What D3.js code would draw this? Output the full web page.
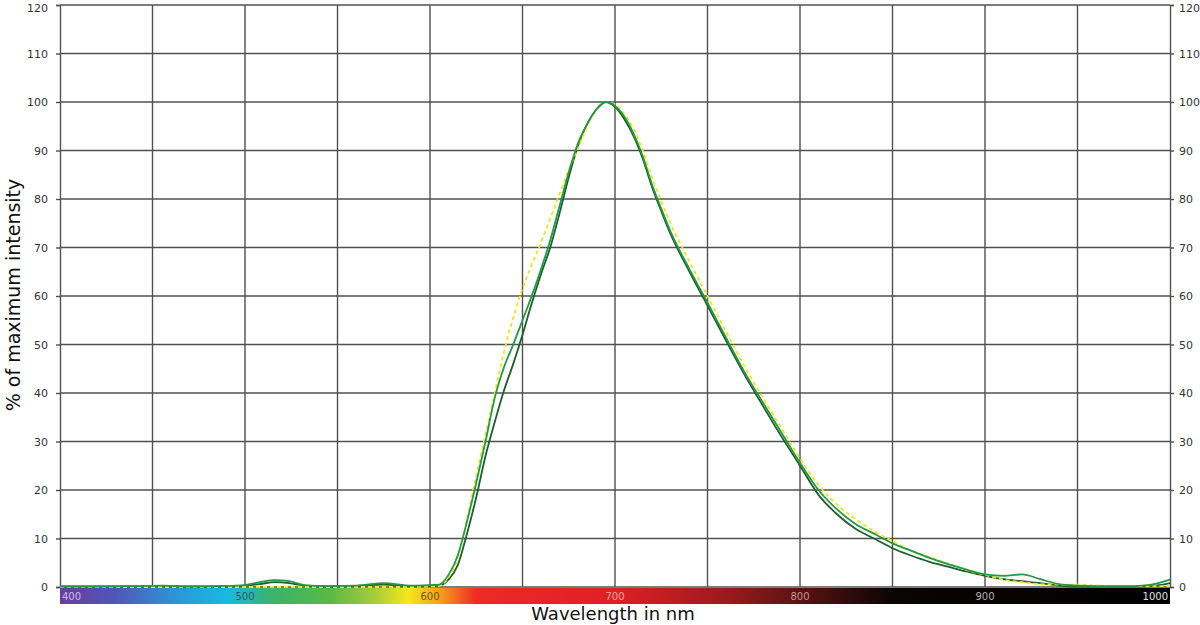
<!DOCTYPE html>
<html>
<head>
<meta charset="utf-8">
<script src="https://cdn.jsdelivr.net/npm/d3@7"></script>
<style>
  body { margin: 0; background: #fff; }
  svg { display: block; }
  text { font-family: "DejaVu Sans", Verdana, sans-serif; }
</style>
</head>
<body>
<svg id="chart" width="1200" height="625"></svg>
<script>
// wavelength grid (nm) shared by the three measured spectra
const wavelengths = [400, 420, 440, 455, 470, 485, 500, 508, 516, 524, 532, 545, 560, 575, 590, 600,
  605, 610, 615, 620, 625, 630, 635, 640, 645, 650, 655, 660, 665, 670, 675, 680, 685, 690, 695,
  700, 705, 710, 715, 720, 725, 730, 740, 750, 760, 770, 780, 790, 800, 810, 820, 830, 840, 850,
  860, 870, 880, 890, 900, 910, 920, 930, 940, 950, 960, 970, 980, 990, 1000]

const greenSeries = [0.1, 0.1, 0.2, 0.3, 0.1, 0.2, 0.4, 1.0, 1.4, 1.2, 0.4, 0.2, 0.3, 0.8, 0.3, 0.4,
  0.5, 2.5, 6.5, 13.5, 21.5, 30, 39, 45.3, 50, 55, 60, 65.5, 71.5, 78.5, 85.5, 91.5, 95.5, 98.5, 100,
  99.2, 97, 93.5, 88.8, 83, 78, 73.3, 65.7, 58.6, 51.4, 44.3, 38, 31.8, 25.6, 20, 16, 13, 11, 9,
  7.5, 6, 4.7, 3.6, 2.6, 2.3, 2.6, 1.6, 0.6, 0.3, 0.2, 0.2, 0.2, 0.5, 1.5]

const darkSeries = [0.1, 0.1, 0.1, 0.2, 0.1, 0.1, 0.3, 0.6, 1.0, 0.8, 0.3, 0.1, 0.2, 0.5, 0.2, 0.3,
  0.3, 1.5, 4.5, 11, 18.5, 27, 34, 40.5, 46, 52, 58.5, 64.5, 70, 77, 84.5, 91, 95.5, 98.5, 100,
  99, 96.5, 93, 88.3, 82.5, 77.5, 72.8, 65.2, 58, 50.8, 43.8, 37.3, 31, 25, 19, 15, 12, 10, 8,
  6.5, 5.2, 4.2, 3.2, 2.3, 1.6, 1.2, 0.8, 0.3, 0.1, 0.1, 0.1, 0.1, 0.2, 0.8]

const yellowSeries = [0, 0, 0, 0, 0, 0, 0, 0, 0, 0, 0, 0, 0, 0, 0, 0.1,
  0.2, 2, 6, 14, 23, 31.5, 40, 48.5, 55.5, 61.5, 66.5, 71, 76, 81, 86, 90.5, 95, 98.5, 100,
  99.5, 97.5, 94.5, 90, 84.5, 79.5, 75, 67.3, 60, 52.7, 45.5, 39, 32.7, 26.5, 21, 17, 14, 11.5, 9.5,
  7.5, 6.2, 4.8, 3.5, 2.5, 1.5, 1.0, 0.6, 0.5, 0.5, 0.3, 0.2, 0.2, 0.2, 0.2]

const yTicks = [0, 10, 20, 30, 40, 50, 60, 70, 80, 90, 100, 110, 120]
const gridWavelengths = [450, 500, 550, 600, 650, 700, 750, 800, 850, 900, 950]
const barLabels = [400, 500, 600, 700, 800, 900, 1000]

// spectrum colours for the strip under the plot
const stripStops = [
  [400, '#6b3c9e'], [430, '#4f57b8'], [465, '#2a9ad8'], [490, '#1ab8e0'], [515, '#3bb36a'],
  [545, '#58b847'], [570, '#a6cc3a'], [588, '#f4e81c'], [605, '#f7a01c'], [625, '#ee2a26'],
  [700, '#e01f26'], [760, '#9c1a1c'], [810, '#4a1010'], [850, '#0a0404'], [1000, '#000000']
]
const labelColors = ['#c9b8ec', '#1d5a74', '#6b5a08', '#f4a4a4', '#c89494', '#b0b0b0', '#e0e0e0']

const svg = d3.select('#chart')
const plotLeft = 60, plotRight = 1170, plotTop = 5, plotBottom = 587

const x = d3.scaleLinear().domain([400, 1000]).range([plotLeft, plotRight])
const y = d3.scaleLinear().domain([0, 120]).range([plotBottom, plotTop])

// grid
const grid = svg.append('g')
grid.selectAll('line.h')
  .data(yTicks)
  .enter()
  .append('line')
  .attr('class', 'h')
  .attr('x1', plotLeft).attr('x2', plotRight)
  .attr('y1', d => y(d)).attr('y2', d => y(d))
  .style('stroke', '#505050')
  .style('stroke-width', 1.4)
grid.selectAll('line.v')
  .data(gridWavelengths)
  .enter()
  .append('line')
  .attr('class', 'v')
  .attr('x1', d => x(d)).attr('x2', d => x(d))
  .attr('y1', plotTop).attr('y2', plotBottom)
  .style('stroke', '#505050')
  .style('stroke-width', 1.4)

// left / right axes
svg.append('g')
  .attr('transform', `translate(${plotLeft},0)`)
  .call(d3.axisLeft(y).tickValues(yTicks).tickSize(4).tickPadding(8))
svg.append('g')
  .attr('transform', `translate(${plotRight},0)`)
  .call(d3.axisRight(y).tickValues(yTicks).tickSize(4).tickPadding(5))
svg.selectAll('.domain, .tick line').style('stroke', '#505050').style('stroke-width', 1.4)
svg.selectAll('.tick text')
  .style('font-size', '11px')
  .style('fill', '#333')
  .attr('dy', d => d === 120 ? '0.55em' : '0.32em')

// spectrum strip
const defs = svg.append('defs')
const grad = defs.append('linearGradient').attr('id', 'spectrum')
  .attr('x1', '0%').attr('x2', '100%')
grad.selectAll('stop')
  .data(stripStops)
  .enter()
  .append('stop')
  .attr('offset', d => ((d[0] - 400) / 600 * 100) + '%')
  .attr('stop-color', d => d[1])

svg.append('rect')
  .attr('x', x(400)).attr('y', 588)
  .attr('width', x(1000) - x(400)).attr('height', 16)
  .style('fill', 'url(#spectrum)')

svg.selectAll('text.bar')
  .data(barLabels)
  .enter()
  .append('text')
  .attr('class', 'bar')
  .attr('x', d => d === 400 ? x(d) + 2 : d === 1000 ? x(d) - 2 : x(d))
  .attr('y', 600)
  .attr('text-anchor', d => d === 400 ? 'start' : d === 1000 ? 'end' : 'middle')
  .style('font-size', '10px')
  .style('fill', (d, i) => labelColors[i])
  .text(d => d)

// spectra
const line = d3.line()
  .x((d, i) => x(wavelengths[i]))
  .y(d => y(d))
  .curve(d3.curveMonotoneX)

svg.append('path')
  .datum(darkSeries)
  .attr('d', line)
  .style('fill', 'none')
  .style('stroke', '#1f5e2e')
  .style('stroke-width', 1.8)

svg.append('path')
  .datum(yellowSeries)
  .attr('d', line)
  .style('fill', 'none')
  .style('stroke', '#f2e41a')
  .style('stroke-width', 1.8)
  .style('stroke-dasharray', '4,3')

svg.append('path')
  .datum(greenSeries)
  .attr('d', line)
  .style('fill', 'none')
  .style('stroke', '#1f9a45')
  .style('stroke-width', 1.8)

// axis titles
svg.append('text')
  .attr('x', 613).attr('y', 620)
  .attr('text-anchor', 'middle')
  .style('font-size', '18px')
  .style('fill', '#111')
  .text('Wavelength in nm')

svg.append('text')
  .attr('transform', 'translate(20,295) rotate(-90)')
  .attr('text-anchor', 'middle')
  .style('font-size', '19px')
  .style('fill', '#111')
  .text('% of maximum intensity')
</script>
</body>
</html>
